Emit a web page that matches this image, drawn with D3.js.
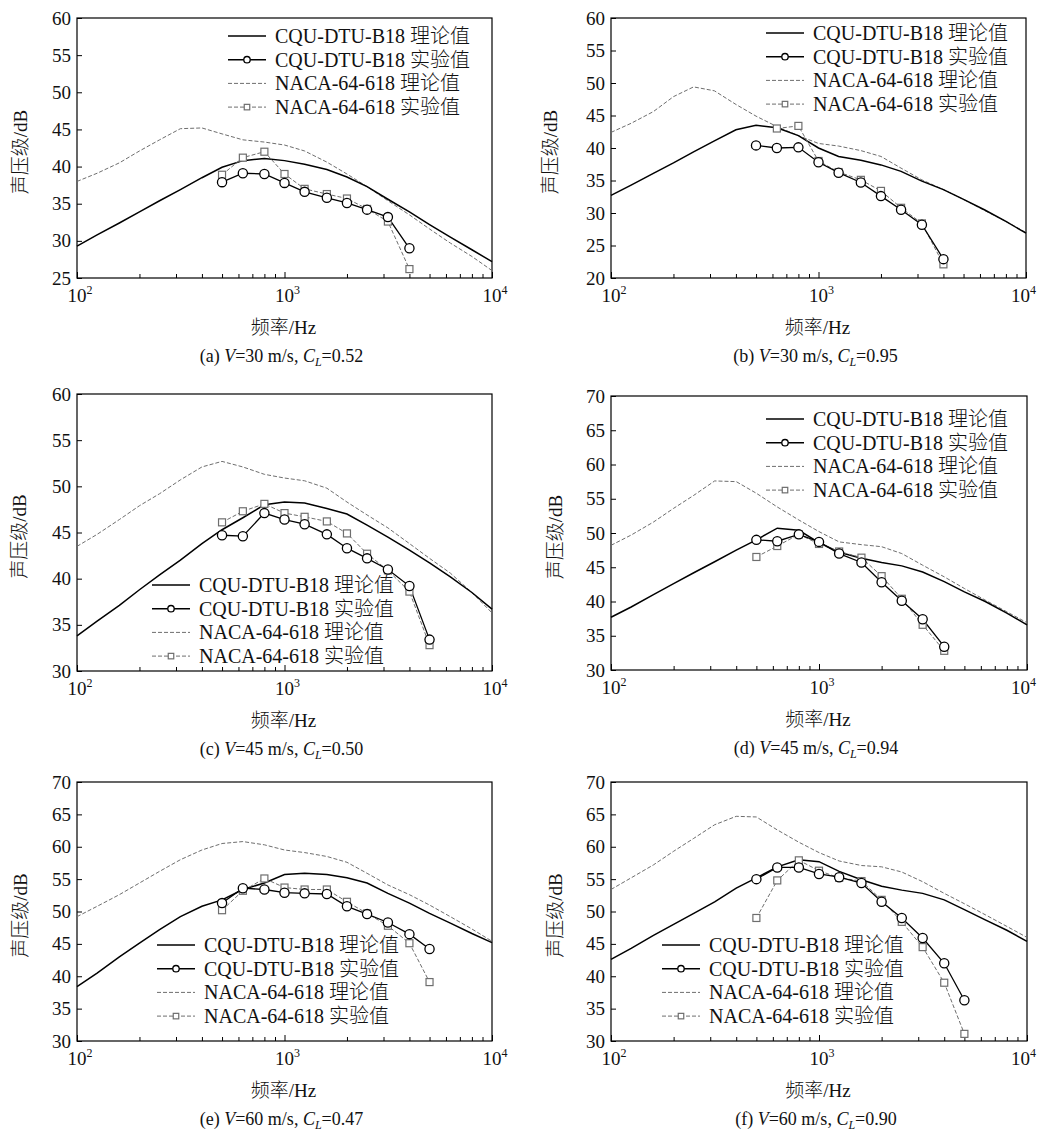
<!DOCTYPE html>
<html>
<head>
<meta charset="utf-8">
<script src="https://cdn.jsdelivr.net/npm/d3@7"></script>
<style>
  body { margin: 0; background: #fff; }
  text { font-family: "Liberation Serif", "Times New Roman", "Noto Sans CJK SC", serif; fill: #111; font-weight: 300; }
</style>
</head>
<body>
<svg id="chart" width="1037" height="1132"></svg>
<script>
'use strict'

// 1/3-octave band centres used by the theory curves and by the measurements
var thFreq = [100, 125, 160, 200, 250, 315, 400, 500, 630, 800, 1000, 1250, 1600, 2000, 2500, 3150, 4000, 5000, 6300, 8000, 10000];
var expFreq = [500, 630, 800, 1000, 1250, 1600, 2000, 2500, 3150, 4000, 5000];

// (a) V=30 m/s, CL=0.52
var cquThA = [29.3, 30.8, 32.4, 33.9, 35.4, 36.9, 38.5, 39.9, 40.8, 41.1, 40.8, 40.3, 39.6, 38.6, 37.3, 35.6, 33.9, 32.2, 30.5, 28.8, 27.2];
var nacaThA = [38.0, 39.1, 40.5, 42.1, 43.6, 45.1, 45.2, 44.4, 43.6, 43.3, 42.9, 42.1, 40.6, 39.0, 37.3, 35.4, 33.5, 31.6, 29.7, 27.9, 26.0];
var cquExpA = [37.9, 39.1, 39.0, 37.8, 36.6, 35.8, 35.1, 34.2, 33.2, 29.0];
var nacaExpA = [38.9, 41.2, 42.0, 39.0, 37.0, 36.3, 35.7, 34.3, 32.6, 26.2];

// (b) V=30 m/s, CL=0.95
var cquThB = [32.7, 34.3, 36.1, 37.7, 39.4, 41.1, 42.8, 43.5, 43.1, 41.9, 40.0, 38.7, 38.1, 37.4, 36.4, 34.9, 33.6, 32.1, 30.5, 28.7, 26.9];
var nacaThB = [42.4, 43.8, 45.6, 47.9, 49.4, 48.8, 46.7, 44.9, 43.3, 41.9, 40.7, 40.3, 39.6, 38.7, 36.9, 35.1, 33.6, 32.1, 30.4, 28.7, 27.0];
var cquExpB = [40.4, 40.0, 40.1, 37.8, 36.2, 34.7, 32.6, 30.5, 28.2, 22.9];
var nacaExpB = [null, 43.0, 43.4, 38.0, 36.3, 35.1, 33.4, 30.8, 28.4, 22.1];

// (c) V=45 m/s, CL=0.50
var cquThC = [33.8, 35.4, 37.1, 38.8, 40.4, 42.0, 43.8, 45.3, 46.6, 48.0, 48.3, 48.2, 47.6, 47.0, 45.8, 44.5, 43.1, 41.7, 40.2, 38.5, 36.7];
var nacaThC = [43.5, 44.8, 46.4, 47.9, 49.2, 50.7, 52.1, 52.7, 52.1, 51.3, 50.9, 50.6, 49.8, 48.3, 46.9, 45.5, 43.8, 42.2, 40.6, 38.5, 36.3];
var cquExpC = [44.7, 44.6, 47.1, 46.4, 45.9, 44.8, 43.3, 42.2, 41.0, 39.2, 33.4];
var nacaExpC = [46.1, 47.3, 48.1, 47.1, 46.7, 46.2, 44.9, 42.7, 40.9, 38.6, 32.8];

// (d) V=45 m/s, CL=0.94
var cquThD = [37.7, 39.2, 41.0, 42.6, 44.2, 45.8, 47.5, 49.0, 50.7, 50.4, 48.6, 47.2, 46.3, 45.7, 45.2, 44.3, 42.9, 41.4, 40.0, 38.3, 36.6];
var nacaThD = [48.2, 49.7, 51.6, 53.6, 55.5, 57.6, 57.5, 55.8, 53.8, 51.9, 50.2, 48.7, 48.3, 48.0, 47.0, 45.3, 43.6, 41.9, 40.2, 38.5, 36.9];
var cquExpD = [49.0, 48.8, 49.8, 48.7, 47.0, 45.7, 42.8, 40.1, 37.4, 33.4];
var nacaExpD = [46.5, 48.1, 49.8, 48.4, 47.3, 46.4, 43.7, 40.4, 36.6, 32.8];

// (e) V=60 m/s, CL=0.47
var cquThE = [38.4, 40.5, 43.0, 45.1, 47.2, 49.2, 50.8, 51.8, 53.4, 54.4, 55.7, 55.9, 55.7, 55.2, 54.4, 52.8, 51.3, 49.7, 48.2, 46.6, 45.2];
var nacaThE = [49.2, 50.8, 52.6, 54.4, 56.2, 58.0, 59.5, 60.5, 60.8, 60.3, 59.5, 59.1, 58.5, 57.6, 55.9, 54.1, 52.6, 51.0, 49.2, 47.3, 45.4];
var cquExpE = [51.3, 53.6, 53.4, 52.9, 52.8, 52.7, 50.8, 49.6, 48.3, 46.5, 44.2];
var nacaExpE = [50.2, 53.2, 55.1, 53.7, 53.4, 53.4, 51.5, 49.7, 47.8, 45.1, 39.1];

// (f) V=60 m/s, CL=0.90
var cquThF = [42.6, 44.3, 46.3, 48.0, 49.7, 51.5, 53.6, 55.2, 56.9, 58.0, 57.7, 56.2, 54.9, 53.9, 53.3, 52.8, 51.8, 50.3, 48.7, 47.1, 45.4];
var nacaThF = [53.4, 55.2, 57.2, 59.3, 61.3, 63.4, 64.7, 64.6, 62.6, 60.7, 59.1, 57.8, 57.1, 56.9, 56.1, 54.6, 52.8, 51.2, 49.5, 47.7, 46.0];
var cquExpF = [55.0, 56.8, 56.8, 55.8, 55.3, 54.4, 51.5, 49.0, 45.9, 42.0, 36.3];
var nacaExpF = [49.0, 54.8, 57.9, 56.3, 55.2, 54.7, 51.8, 48.4, 44.5, 39.0, 31.1];

var yDomains = [[25, 60], [20, 60], [30, 60], [30, 70], [30, 70], [30, 70]];
var letters = ["a", "b", "c", "d", "e", "f"];
var speeds = ["30", "30", "45", "45", "60", "60"];
var lifts = ["0.52", "0.95", "0.50", "0.94", "0.47", "0.90"];
var legendNames = ["CQU-DTU-B18 理论值", "CQU-DTU-B18 实验值", "NACA-64-618 理论值", "NACA-64-618 实验值"];

// where each panel sits on the page
var boxes = [
  { l: 77,  r: 492,  t: 18,  b: 278,  legX: 228, legY: 36,  yLabX: 20 },
  { l: 611, r: 1026, t: 18,  b: 278,  legX: 766, legY: 33,  yLabX: 550 },
  { l: 77,  r: 492,  t: 394, b: 671,  legX: 152, legY: 585, yLabX: 19 },
  { l: 611, r: 1027, t: 396, b: 670,  legX: 766, legY: 419, yLabX: 555 },
  { l: 77,  r: 492,  t: 782, b: 1041, legX: 157, legY: 945, yLabX: 20 },
  { l: 611, r: 1027, t: 782, b: 1041, legX: 662, legY: 945, yLabX: 555 }
];

var panels = [
  [cquThA, nacaThA, cquExpA, nacaExpA],
  [cquThB, nacaThB, cquExpB, nacaExpB],
  [cquThC, nacaThC, cquExpC, nacaExpC],
  [cquThD, nacaThD, cquExpD, nacaExpD],
  [cquThE, nacaThE, cquExpE, nacaExpE],
  [cquThF, nacaThF, cquExpF, nacaExpF]
];

var grey = "#6e6e6e";
var pageW = 1037;
var svg = d3.select("#chart");
svg.append("rect").attr("width", pageW).attr("height", 1132).attr("fill", "#fff");

var xMinor = [];
[100, 1000].forEach(function(dec) {
  for (var k = 1; k <= 9; k++) xMinor.push(dec * k);
});
xMinor.push(10000);

function pairs(freqs, vals) {
  var out = [];
  vals.forEach(function(v, i) {
    if (v !== null) out.push({ f: freqs[i], v: v });
  });
  return out;
}

function circleMark(sel, cx, cy, r) {
  sel.append("circle")
    .attr("cx", cx).attr("cy", cy).attr("r", r)
    .attr("fill", "#fff").attr("stroke", "#000").attr("stroke-width", 1.3);
}

function squareMark(sel, cx, cy, s) {
  sel.append("rect")
    .attr("x", cx - s / 2).attr("y", cy - s / 2)
    .attr("width", s).attr("height", s)
    .attr("fill", "#fff").attr("stroke", grey).attr("stroke-width", 1.2);
}

panels.forEach(function(series, p) {
  var box = boxes[p];
  var g = svg.append("g");

  var x = d3.scaleLog().domain([100, 10000]).range([box.l, box.r]);
  var y = d3.scaleLinear().domain(yDomains[p]).range([box.b, box.t]);

  var line = d3.line()
    .x(function(d) { return x(d.f); })
    .y(function(d) { return y(d.v); });

  // ticks, pointing inward
  var xAxis = d3.axisBottom(x).tickValues(xMinor).tickSize(-4).tickFormat("");
  var gx = g.append("g")
    .attr("transform", "translate(0," + box.b + ")")
    .call(xAxis);
  gx.select(".domain").remove();
  gx.selectAll(".tick line")
    .attr("stroke", "#000")
    .attr("y2", function(d) { return [100, 1000, 10000].indexOf(d) >= 0 ? -6 : -4; });

  var yAxis = d3.axisLeft(y)
    .tickValues(d3.range(yDomains[p][0], yDomains[p][1] + 1, 5))
    .tickSize(-5).tickPadding(6);
  var gy = g.append("g")
    .attr("transform", "translate(" + box.l + ",0)")
    .call(yAxis);
  gy.select(".domain").remove();
  gy.selectAll(".tick line").attr("stroke", "#000");
  gy.selectAll(".tick text")
    .attr("font-size", 19)
    .attr("font-family", "Liberation Serif, serif")
    .attr("fill", "#111");

  [[100, "2"], [1000, "3"], [10000, "4"]].forEach(function(t) {
    var lab = g.append("text")
      .attr("x", x(t[0]) + 3).attr("y", box.b + 24)
      .attr("text-anchor", "middle")
      .attr("font-size", 19);
    lab.append("tspan").text("10");
    lab.append("tspan").attr("font-size", 12).attr("dy", -8).text(t[1]);
    // keep the last label inside the page
    var w = lab.node().getComputedTextLength();
    if (x(t[0]) + 3 + w / 2 > pageW - 1) {
      lab.attr("text-anchor", "end").attr("x", pageW - 1);
    }
  });

  // frame
  g.append("rect")
    .attr("x", box.l).attr("y", box.t)
    .attr("width", box.r - box.l).attr("height", box.b - box.t)
    .attr("fill", "none").attr("stroke", "#000").attr("stroke-width", 1.2);

  // curves
  g.append("path").datum(pairs(thFreq, series[1]))
    .attr("d", line).attr("fill", "none")
    .attr("stroke", grey).attr("stroke-width", 1).attr("stroke-dasharray", "4,2");

  g.append("path").datum(pairs(thFreq, series[0]))
    .attr("d", line).attr("fill", "none")
    .attr("stroke", "#000").attr("stroke-width", 1.5);

  var nacaExp = pairs(expFreq, series[3]);
  g.append("path").datum(nacaExp)
    .attr("d", line).attr("fill", "none")
    .attr("stroke", grey).attr("stroke-width", 1).attr("stroke-dasharray", "4,2");

  var cquExp = pairs(expFreq, series[2]);
  g.append("path").datum(cquExp)
    .attr("d", line).attr("fill", "none")
    .attr("stroke", "#000").attr("stroke-width", 1.3);

  nacaExp.forEach(function(d) { squareMark(g, x(d.f), y(d.v), 7); });
  cquExp.forEach(function(d) { circleMark(g, x(d.f), y(d.v), 4.6); });

  // legend
  var leg = g.append("g");
  legendNames.forEach(function(name, i) {
    var ly = box.legY + i * 23.7;
    var x0 = box.legX, x1 = box.legX + 38;
    var ln = leg.append("line")
      .attr("x1", x0).attr("x2", x1).attr("y1", ly).attr("y2", ly)
      .attr("stroke", i < 2 ? "#000" : grey)
      .attr("stroke-width", i < 2 ? 1.4 : 1);
    if (i >= 2) ln.attr("stroke-dasharray", "4,2");
    if (i === 1) circleMark(leg, (x0 + x1) / 2, ly, 3.2);
    if (i === 3) squareMark(leg, (x0 + x1) / 2, ly, 5.5);
    leg.append("text")
      .attr("x", box.legX + 47).attr("y", ly)
      .attr("dy", "0.35em")
      .attr("font-size", 20)
      .text(name);
  });

  // axis titles
  g.append("text")
    .attr("transform", "translate(" + box.yLabX + "," + ((box.t + box.b) / 2 + 4) + ") rotate(-90)")
    .attr("text-anchor", "middle")
    .attr("dominant-baseline", "central")
    .attr("font-size", 19)
    .text("声压级/dB");

  g.append("text")
    .attr("x", (box.l + box.r) / 2 - 1).attr("y", box.b + 56)
    .attr("text-anchor", "middle")
    .attr("font-size", 19)
    .text("频率/Hz");

  // caption
  var cap = g.append("text")
    .attr("x", (box.l + box.r) / 2 - 3).attr("y", box.b + 84)
    .attr("text-anchor", "middle")
    .attr("font-size", 18);
  cap.append("tspan").text("(" + letters[p] + ") ");
  cap.append("tspan").attr("font-style", "italic").text("V");
  cap.append("tspan").text("=" + speeds[p] + " m/s, ");
  cap.append("tspan").attr("font-style", "italic").text("C");
  cap.append("tspan").attr("font-style", "italic").attr("font-size", 12).attr("dy", 4).text("L");
  cap.append("tspan").attr("dy", -4).text("=" + lifts[p]);
});
</script>
</body>
</html>
